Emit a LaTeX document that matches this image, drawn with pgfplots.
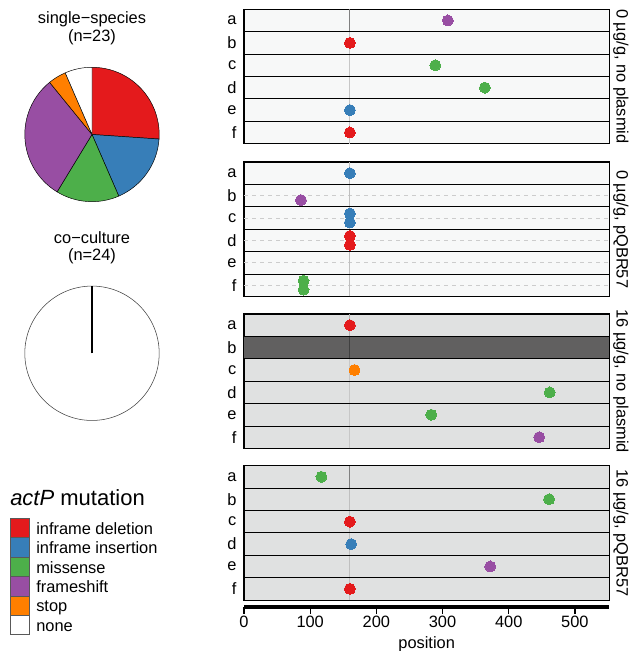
\documentclass[border=0pt]{standalone}
\usepackage{fontspec}
\setmainfont{Liberation Sans}
\usepackage{pgfplots}
\pgfplotsset{compat=1.18}

\definecolor{mutdel}{HTML}{E41A1C}
\definecolor{mutins}{HTML}{377EB8}
\definecolor{mutmis}{HTML}{4DAF4A}
\definecolor{mutfs}{HTML}{984EA3}
\definecolor{mutstop}{HTML}{FF7F00}
\definecolor{bglight}{HTML}{F7F8F8}
\definecolor{bggray}{HTML}{E0E1E1}
\definecolor{rowdark}{HTML}{616060}

\newcommand{\basefont}{\fontsize{12.3}{14}\selectfont}
\newcommand{\pieR}{50.4pt}
% slice from count #1 to count #2 of #3, clockwise from the top
\newcommand{\pieslice}[4]{%
  \filldraw[fill=#4, draw=black, line width=0.35pt] (axis cs:0,0) -- ++({90-360*#1/#3}:\pieR)
    arc[start angle={90-360*#1/#3}, end angle={90-360*#2/#3}, radius=\pieR] -- cycle;}

\pgfplotsset{
  panel/.style={
    scale only axis, width=274pt, height=100.8pt, anchor=north west,
    xmin=0, xmax=552, ymin=0.5, ymax=6.5,
    xtick=\empty, ytick={1,...,6}, yticklabels={f,e,d,c,b,a},
    major tick length=0pt,
    axis line style={black, line width=0.8pt},
    yticklabel style={font=\basefont, inner sep=0pt, xshift=-5.5pt},
    clip=false,
  },
  dot/.style={only marks, color=#1, mark=*, mark size=4.1pt, mark options={draw=#1, fill=#1, line width=0pt}},
  piebox/.style={anchor=center, hide axis, scale only axis, width=100.8pt, height=100.8pt,
    xmin=-1, xmax=1, ymin=-1, ymax=1, clip=false},
}
\newcommand{\rowlines}{%
  \pgfplotsinvokeforeach{1.5,2.5,3.5,4.5,5.5}{\draw[black, line width=0.6pt] (axis cs:0,##1) -- (axis cs:552,##1);}}
\newcommand{\stripnode}[1]{%
  \node[rotate=-90, anchor=south, inner sep=0pt, font=\basefont] at ([xshift=2.8pt]rel axis cs:1,0.5) {#1};}

\begin{document}
\begin{tikzpicture}
\useasboundingbox (0,0) rectangle (474pt,488.25pt);

% ---- pies ----
\node[anchor=base, font=\basefont] at (69pt,470.6pt) {single−species};
\node[anchor=base, font=\basefont] at (69pt,457.1pt) {(n=23)};
\begin{axis}[piebox, at={(69pt,387.4pt)}]
\addplot[draw=none] coordinates {(0,0)};
\pieslice{0}{6}{23}{mutdel}
\pieslice{6}{10}{23}{mutins}
\pieslice{10}{13.5}{23}{mutmis}
\pieslice{13.5}{20.5}{23}{mutfs}
\pieslice{20.5}{21.5}{23}{mutstop}
\pieslice{21.5}{23}{23}{white}
\end{axis}

\node[anchor=base, font=\basefont] at (69pt,305.8pt) {co−culture};
\node[anchor=base, font=\basefont] at (69pt,292.5pt) {(n=24)};
\begin{axis}[piebox, at={(69pt,223.3pt)}]
\addplot[draw=none] coordinates {(0,0)};
\filldraw[fill=white, draw=black!75, line width=0.4pt] (axis cs:0,0) circle[radius=\pieR];
\draw[black, line width=1pt] (axis cs:0,0) -- ++(90:\pieR);
\end{axis}

% ---- legend ----
\node[anchor=base west, inner sep=0pt, font=\fontsize{16.5}{18}\selectfont] at (7.5pt,109pt) {\textit{actP} mutation};
\foreach \c/\t [count=\i from 0] in {mutdel/inframe deletion, mutins/inframe insertion,
    mutmis/missense, mutfs/frameshift, mutstop/stop, white/none} {
  \pgfmathsetmacro{\ytop}{99.5-14.55*\i}
  \filldraw[fill=\c, draw=black!65, line width=0.45pt] (7.5pt,\ytop pt) rectangle (22pt,\ytop pt-14.55pt);
  \node[anchor=base west, inner sep=0pt, font=\basefont] at (27pt,\ytop pt-12pt) {\t};
}

% ---- panel 1: 0 ug/g, no plasmid ----
\begin{axis}[panel, at={(183pt,481.3pt)}, axis background/.style={fill=bglight}]
\draw[black!22, line width=0.6pt] (axis cs:160,0.5) -- (axis cs:160,5.5);
\draw[black!50, line width=0.6pt] (axis cs:160,5.5) -- (axis cs:160,6.5);
\rowlines
\addplot[dot=mutdel] coordinates {(160,5) (160,1)};
\addplot[dot=mutins] coordinates {(160,2)};
\addplot[dot=mutmis] coordinates {(289,4) (364,3)};
\addplot[dot=mutfs] coordinates {(308,6)};
\stripnode{0 µg/g, no plasmid}
\end{axis}

% ---- panel 2: 0 ug/g, pQBR57 ----
\begin{axis}[panel, at={(183pt,366.75pt)}, axis background/.style={fill=bglight}]
\pgfplotsinvokeforeach{1,2,3,4,5}{\draw[black!20, dashed, line width=0.5pt] (axis cs:0,#1) -- (axis cs:552,#1);}
\draw[black!25, line width=0.6pt] (axis cs:160,0.5) -- (axis cs:160,6.5);
\rowlines
\addplot[dot=mutdel] coordinates {(160,3.2) (160,2.8)};
\addplot[dot=mutins] coordinates {(160,6) (160,4.2) (160,3.8)};
\addplot[dot=mutmis] coordinates {(90,1.2) (90,0.8)};
\addplot[dot=mutfs] coordinates {(86,4.8)};
\stripnode{0 µg/g, pQBR57}
\end{axis}

% ---- panel 3: 16 ug/g, no plasmid ----
\begin{axis}[panel, at={(183pt,252.75pt)}, axis background/.style={fill=bggray}]
\fill[rowdark] (axis cs:0,4.5) rectangle (axis cs:552,5.5);
\draw[black!22, line width=0.6pt] (axis cs:160,0.5) -- (axis cs:160,4.5);
\draw[black!75, line width=0.6pt] (axis cs:160,4.5) -- (axis cs:160,5.5);
\draw[black!30, line width=0.6pt] (axis cs:160,5.5) -- (axis cs:160,6.5);
\rowlines
\addplot[dot=mutdel] coordinates {(160,6)};
\addplot[dot=mutstop] coordinates {(167,4)};
\addplot[dot=mutmis] coordinates {(462,3) (283,2)};
\addplot[dot=mutfs] coordinates {(446,1)};
\stripnode{16 µg/g, no plasmid}
\end{axis}

% ---- panel 4: 16 ug/g, pQBR57 ----
\begin{axis}[panel, at={(183pt,139pt)}, axis background/.style={fill=bggray}]
\draw[black!25, line width=0.6pt] (axis cs:160,0.5) -- (axis cs:160,5.5);
\draw[black!50, line width=0.6pt] (axis cs:160,5.5) -- (axis cs:160,6.5);
\rowlines
\addplot[dot=mutdel] coordinates {(160,4) (160,1)};
\addplot[dot=mutins] coordinates {(162,3)};
\addplot[dot=mutmis] coordinates {(117,6) (461,5)};
\addplot[dot=mutfs] coordinates {(372,2)};
\stripnode{16 µg/g, pQBR57}
\end{axis}

% ---- shared x axis (1 y unit = 10pt) ----
\begin{axis}[scale only axis, width=274pt, height=10pt, at={(183pt,33pt)}, anchor=south west,
  xmin=0, xmax=552, ymin=0, ymax=1,
  axis line style={draw=none}, ytick=\empty,
  xtick={0,100,...,500}, xtick pos=bottom, xtick align=outside, major tick length=5.25pt,
  xtick style={black, line width=0.75pt},
  xticklabel style={font=\basefont, inner sep=1pt, /pgf/number format/assume math mode=true},
  xlabel={position}, xlabel style={font=\basefont, inner sep=0pt, yshift=-6pt},
  clip=false,
]
\addplot[draw=none] coordinates {(0,0)};
\draw[black, line width=3pt] (axis cs:0,0) -- (axis cs:552,0);
\pgfplotsinvokeforeach{0,100,200,300,400,500}{\draw[black, line width=1pt] (axis cs:#1,0) -- (axis cs:#1,-0.56);}
\end{axis}
\end{tikzpicture}
\end{document}
